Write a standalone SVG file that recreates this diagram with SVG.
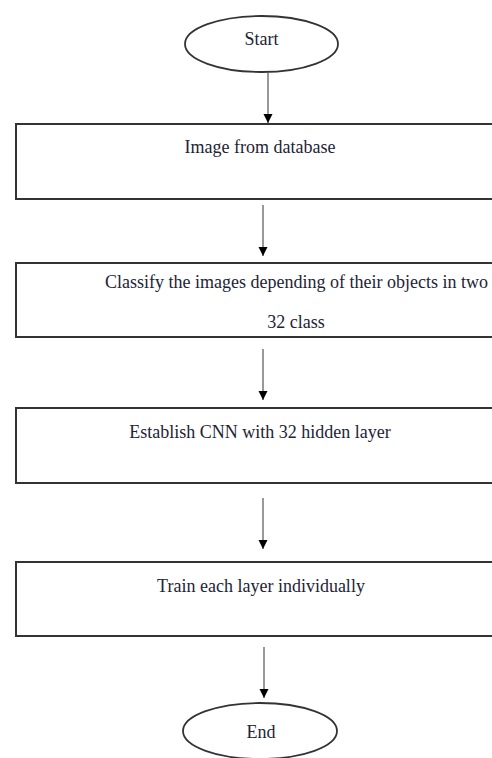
<svg xmlns="http://www.w3.org/2000/svg" width="492" height="758" viewBox="0 0 492 758">
<style>
.box{fill:#fff;stroke:#333;stroke-width:2}
.term{fill:#fff;stroke:#333;stroke-width:1.8}
.lbl{font-family:"Liberation Serif","Times New Roman",serif;font-size:18px;fill:#232336;text-anchor:middle}
.conn{stroke:#555;stroke-width:1.2;fill:none;marker-end:url(#arr)}
</style>
<defs>
<marker id="arr" viewBox="0 0 10 10" refX="10" refY="5" markerWidth="9" markerHeight="10" markerUnits="userSpaceOnUse" orient="auto">
<path d="M0,0 L10,5 L0,10 z" fill="#000"/>
</marker>
</defs>
<rect width="492" height="758" fill="#fff"/>
<g id="start">
<ellipse class="term" cx="261.5" cy="44" rx="76.5" ry="28"/>
<text class="lbl" x="261.5" y="45">Start</text>
</g>
<g id="n1">
<rect class="box" x="16" y="124" width="490" height="75"/>
<text class="lbl" x="260" y="153">Image from database</text>
</g>
<g id="n2">
<rect class="box" x="16" y="263" width="490" height="74"/>
<text class="lbl" x="296.5" y="288">Classify the images depending of their objects in two</text>
<text class="lbl" x="296" y="328">32 class</text>
</g>
<g id="n3">
<rect class="box" x="16" y="408" width="490" height="75"/>
<text class="lbl" x="260" y="438">Establish CNN with 32 hidden layer</text>
</g>
<g id="n4">
<rect class="box" x="16" y="562" width="490" height="74"/>
<text class="lbl" x="261" y="592">Train each layer individually</text>
</g>
<g id="end">
<ellipse class="term" cx="260" cy="731" rx="77" ry="28"/>
<text class="lbl" x="261" y="738">End</text>
</g>
<g id="connectors">
<line class="conn" x1="268" y1="72" x2="268" y2="123"/>
<line class="conn" x1="263" y1="205" x2="263" y2="256"/>
<line class="conn" x1="263" y1="349" x2="263" y2="400"/>
<line class="conn" x1="263" y1="498" x2="263" y2="549"/>
<line class="conn" x1="264" y1="647" x2="264" y2="698"/>
</g>
</svg>
